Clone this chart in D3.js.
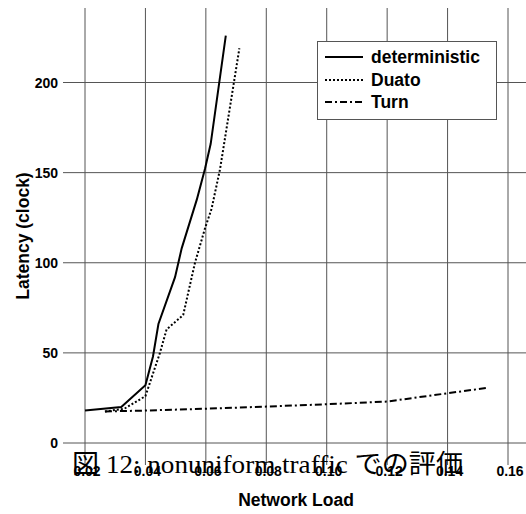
<!DOCTYPE html>
<html><head><meta charset="utf-8">
<script src="https://cdn.jsdelivr.net/npm/d3@7"></script>
<style>html,body{margin:0;padding:0;background:#fff;}</style>
</head><body>
<svg id="chart" width="526" height="514"></svg>
<script>
const xTicks = [0.02, 0.04, 0.06, 0.08, 0.10, 0.12, 0.14, 0.16];
const xTickLabels = ["0.02", "0.04", "0.06", "0.08", "0.10", "0.12", "0.14", "0.16"];
const yTicks = [0, 50, 100, 150, 200];
const seriesNames = ["deterministic", "Duato", "Turn"];
const deterministicLoad = [0.020, 0.032, 0.040, 0.0425, 0.0443, 0.0498, 0.052, 0.057, 0.0597, 0.0616, 0.0666];
const deterministicLatency = [18, 20, 32, 48, 66, 92, 108, 135, 152, 166, 226];
const duatoLoad = [0.0266, 0.033, 0.040, 0.0448, 0.047, 0.0525, 0.0564, 0.0597, 0.0619, 0.0647, 0.0711];
const duatoLatency = [17.5, 19, 26, 50, 63, 71, 100, 119, 130, 152, 219];
const turnLoad = [0.0266, 0.040, 0.060, 0.080, 0.100, 0.120, 0.140, 0.1535];
const turnLatency = [17.5, 18, 19, 20.2, 21.5, 23, 27.6, 30.7];
const caption = "図 12: nonuniform traffic での評価";

const svg = d3.select("#chart");
const x = d3.scaleLinear().domain([0.02, 0.16]).range([85, 508]);
const y = d3.scaleLinear().domain([0, 200]).range([443, 82.5]);
const gridColor = "#555";
const bold = "'Liberation Sans', Arial, sans-serif";

// horizontal grid
svg.append("g").selectAll("line").data(yTicks).join("line")
  .attr("x1", 63).attr("x2", 526)
  .attr("y1", d => y(d)).attr("y2", d => y(d))
  .attr("stroke", gridColor).attr("stroke-width", 1);
// vertical grid
svg.append("g").selectAll("line").data(xTicks).join("line")
  .attr("x1", d => x(d)).attr("x2", d => x(d))
  .attr("y1", 8).attr("y2", 465)
  .attr("stroke", gridColor).attr("stroke-width", 1);

// y tick labels
svg.append("g").selectAll("text").data(yTicks).join("text")
  .attr("x", 58).attr("y", d => y(d) + 5)
  .attr("text-anchor", "end")
  .attr("font-family", bold).attr("font-weight", "bold").attr("font-size", 14)
  .text(d => d);

// caption (overlapping text, as in the reference)
svg.append("text")
  .attr("x", 72).attr("y", 473)
  .attr("font-family", "'Liberation Serif', 'DejaVu Serif', 'Noto Sans CJK JP', serif")
  .attr("font-size", 26)
  .attr("textLength", 391).attr("lengthAdjust", "spacingAndGlyphs")
  .text(caption);

// x tick labels
svg.append("g").selectAll("text").data(xTicks).join("text")
  .attr("x", d => x(d) + 2).attr("y", 476)
  .attr("text-anchor", "middle")
  .attr("font-family", bold).attr("font-weight", "bold").attr("font-size", 14)
  .text((d, i) => xTickLabels[i]);

// axis titles
svg.append("text")
  .attr("x", 296).attr("y", 506)
  .attr("text-anchor", "middle")
  .attr("font-family", bold).attr("font-weight", "bold").attr("font-size", 17.5)
  .text("Network Load");
svg.append("text")
  .attr("transform", "translate(29,236) rotate(-90)")
  .attr("text-anchor", "middle")
  .attr("font-family", bold).attr("font-weight", "bold").attr("font-size", 17.5)
  .text("Latency (clock)");

// lines
const dashes = [null, "2,2", "7,3,2,3"];
const datasets = [
  deterministicLoad.map((v, i) => [v, deterministicLatency[i]]),
  duatoLoad.map((v, i) => [v, duatoLatency[i]]),
  turnLoad.map((v, i) => [v, turnLatency[i]])
];
const line = d3.line().x(d => x(d[0])).y(d => y(d[1]));
datasets.forEach((ds, i) => {
  svg.append("path").datum(ds)
    .attr("d", line)
    .attr("fill", "none").attr("stroke", "#000").attr("stroke-width", 2)
    .attr("stroke-dasharray", dashes[i]);
});

// legend
const lg = svg.append("g");
lg.append("rect").attr("x", 317.5).attr("y", 41.5).attr("width", 179).attr("height", 78)
  .attr("fill", "#fff").attr("stroke", gridColor).attr("stroke-width", 1);
const legendY = [57, 80, 102];
seriesNames.forEach((n, i) => {
  lg.append("line").attr("x1", 325).attr("x2", 363)
    .attr("y1", legendY[i]).attr("y2", legendY[i])
    .attr("stroke", "#000").attr("stroke-width", 2)
    .attr("stroke-dasharray", dashes[i]);
  lg.append("text").attr("x", 371).attr("y", legendY[i] + 6)
    .attr("font-family", bold).attr("font-weight", "bold").attr("font-size", 17.5)
    .text(n);
});
</script>
</body></html>
